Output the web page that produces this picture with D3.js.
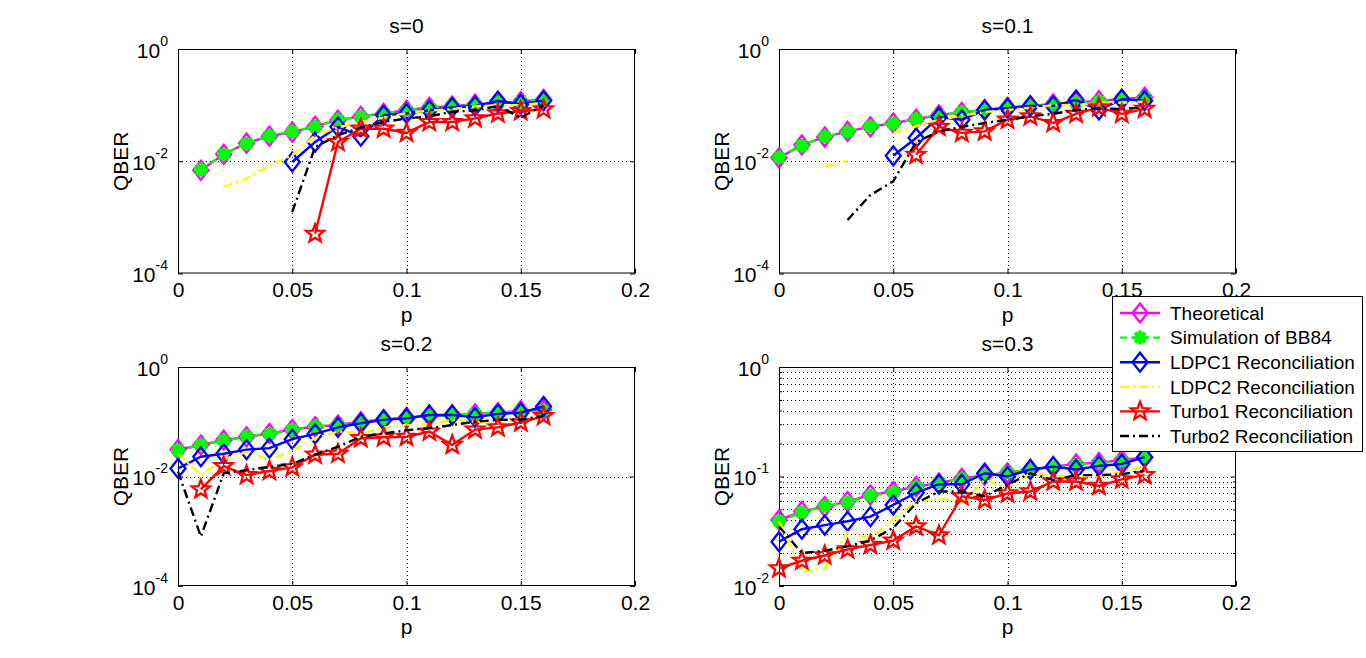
<!DOCTYPE html>
<html lang="en">
<head>
<meta charset="UTF-8">
<title>QBER</title>
<style>
    body { margin: 0; background: #fff; }
    svg text { font-family: "Liberation Sans", Arial, sans-serif; }
</style>
</head>
<body>
<div id="chart"></div>
<script src="https://cdn.jsdelivr.net/npm/d3@7"></script>
<script>
    // ---- data ----
    const pValues = [0, 0.01, 0.02, 0.03, 0.04, 0.05, 0.06, 0.07, 0.08, 0.09, 0.1, 0.11, 0.12, 0.13, 0.14, 0.15, 0.16];
    const xTicks = [0, 0.05, 0.1, 0.15, 0.2];
    const xTickLabels = ["0", "0.05", "0.1", "0.15", "0.2"];
    const titles = ["s=0", "s=0.1", "s=0.2", "s=0.3"];
    const seriesNames = ["Theoretical", "Simulation of BB84", "LDPC1 Reconciliation",
        "LDPC2 Reconciliation", "Turbo1 Reconciliation", "Turbo2 Reconciliation"];

    // s=0
    const theo0 = [null, 0.0069, 0.0133, 0.021, 0.028, 0.033, 0.042, 0.054, 0.063, 0.071, 0.081, 0.091, 0.096, 0.104, 0.108, 0.115, 0.126];
    const sim0 = [null, 0.0071, 0.0135, 0.0205, 0.0285, 0.034, 0.041, 0.055, 0.062, 0.072, 0.080, 0.090, 0.097, 0.103, 0.110, 0.114, 0.124];
    const ldpc1_0 = [null, null, null, null, null, 0.0097, 0.022, 0.041, 0.028, 0.066, 0.071, 0.081, 0.091, 0.096, 0.118, 0.104, 0.12];
    const ldpc2_0 = [null, null, 0.0035, 0.0049, 0.0083, 0.0128, 0.029, 0.040, 0.050, 0.060, 0.072, 0.080, 0.085, 0.095, 0.10, 0.10, 0.11];
    const turbo1_0 = [null, null, null, null, null, null, 0.00051, 0.022, 0.038, 0.038, 0.032, 0.050, 0.050, 0.058, 0.071, 0.078, 0.084];
    const turbo2_0 = [null, null, null, null, null, 0.00125, 0.018, 0.029, 0.040, 0.050, 0.058, 0.063, 0.076, 0.081, 0.096, 0.060, 0.10];

    // s=0.1
    const theo1 = [0.0115, 0.0195, 0.027, 0.034, 0.041, 0.048, 0.056, 0.067, 0.074, 0.082, 0.091, 0.097, 0.105, 0.111, 0.12, 0.127, 0.138];
    const sim1 = [0.0118, 0.019, 0.0275, 0.0335, 0.042, 0.047, 0.057, 0.066, 0.075, 0.081, 0.092, 0.096, 0.104, 0.112, 0.118, 0.128, 0.135];
    const ldpc1_1 = [null, null, null, null, null, 0.0125, 0.026, 0.061, 0.055, 0.082, 0.088, 0.097, 0.097, 0.123, 0.082, 0.127, 0.12];
    const ldpc2_1 = [null, null, 0.0081, 0.010, null, 0.032, 0.042, 0.055, 0.065, 0.075, 0.082, 0.090, 0.10, 0.10, 0.11, 0.11, 0.115];
    const turbo1_1 = [null, null, null, null, null, null, 0.013, 0.041, 0.032, 0.034, 0.055, 0.063, 0.048, 0.070, 0.091, 0.070, 0.086];
    const turbo2_1 = [null, null, null, 0.0009, 0.0025, 0.0044, 0.022, 0.034, 0.041, 0.048, 0.055, 0.063, 0.070, 0.082, 0.088, 0.085, 0.091];

    // s=0.2
    const theo2 = [0.031, 0.0376, 0.046, 0.053, 0.061, 0.072, 0.081, 0.087, 0.10, 0.11, 0.12, 0.127, 0.133, 0.139, 0.146, 0.159, 0.164];
    const sim2 = [0.030, 0.038, 0.045, 0.054, 0.060, 0.071, 0.082, 0.088, 0.098, 0.11, 0.118, 0.128, 0.131, 0.14, 0.145, 0.156, 0.16];
    const ldpc1_2 = [0.014, 0.023, 0.026, 0.031, 0.033, 0.048, 0.060, 0.079, 0.094, 0.108, 0.115, 0.133, 0.133, 0.12, 0.139, 0.146, 0.19];
    const ldpc2_2 = [0.026, 0.0106, 0.0205, 0.028, 0.020, 0.030, 0.050, 0.066, 0.061, 0.079, 0.087, 0.090, 0.108, 0.10, 0.097, 0.115, 0.123];
    const turbo1_2 = [null, 0.0058, 0.0155, 0.0106, 0.0126, 0.0147, 0.025, 0.026, 0.050, 0.052, 0.053, 0.066, 0.0376, 0.072, 0.079, 0.097, 0.127];
    const turbo2_2 = [0.0123, 0.0008, 0.0114, 0.013, 0.015, 0.017, 0.025, 0.035, 0.053, 0.061, 0.070, 0.076, 0.087, 0.10, 0.108, 0.11, 0.127];

    // s=0.3
    const theo3 = [0.040, 0.048, 0.053, 0.059, 0.068, 0.073, 0.081, 0.087, 0.096, 0.103, 0.108, 0.116, 0.123, 0.13, 0.134, 0.141, 0.15];
    const sim3 = [0.039, 0.047, 0.054, 0.058, 0.067, 0.072, 0.080, 0.088, 0.095, 0.102, 0.109, 0.115, 0.121, 0.128, 0.133, 0.139, 0.148];
    const ldpc1_3 = [0.0254, 0.033, 0.036, 0.039, 0.043, 0.055, 0.071, 0.085, 0.085, 0.107, 0.10, 0.116, 0.123, 0.116, 0.125, 0.13, 0.15];
    const ldpc2_3 = [0.039, 0.0135, 0.0145, 0.031, 0.027, 0.041, 0.059, 0.063, 0.058, 0.093, 0.078, 0.107, 0.10, 0.10, 0.10, 0.111, 0.123];
    const turbo1_3 = [0.0145, 0.017, 0.019, 0.0216, 0.0237, 0.026, 0.035, 0.029, 0.066, 0.061, 0.070, 0.073, 0.090, 0.090, 0.082, 0.094, 0.103];
    const turbo2_3 = [0.035, 0.020, 0.021, 0.023, 0.026, 0.034, 0.057, 0.073, 0.073, 0.066, 0.084, 0.107, 0.093, 0.103, 0.103, 0.105, 0.113];

    const yDomains = [[1e-4, 1], [1e-4, 1], [1e-4, 1], [1e-2, 1]];
    const yTickExps = [[-4, -2, 0], [-4, -2, 0], [-4, -2, 0], [-2, -1, 0]];

    // ---- styles ----
    const styles = [
        {color: "#ff00ff", dash: null, marker: "diamond"},
        {color: "#00ff00", dash: "7,4", marker: "asterisk"},
        {color: "#0000ff", dash: null, marker: "diamond"},
        {color: "#ffff00", dash: "9,4,2,4", marker: null},
        {color: "#ff0000", dash: null, marker: "star"},
        {color: "#000000", dash: "9,4,2,4", marker: null}
    ];

    const panels = [
        {box: {x: 178, y: 49, w: 457, h: 224.5}, series: [theo0, sim0, ldpc1_0, ldpc2_0, turbo1_0, turbo2_0]},
        {box: {x: 779, y: 49, w: 457, h: 224.5}, series: [theo1, sim1, ldpc1_1, ldpc2_1, turbo1_1, turbo2_1]},
        {box: {x: 178, y: 367, w: 457, h: 219}, series: [theo2, sim2, ldpc1_2, ldpc2_2, turbo1_2, turbo2_2]},
        {box: {x: 779, y: 367, w: 457, h: 219}, series: [theo3, sim3, ldpc1_3, ldpc2_3, turbo1_3, turbo2_3]}
    ];

    const width = 1366, height = 658;
    const fontSize = 21;

    let svg = d3.select("#chart")
        .append("svg")
        .attr("width", width)
        .attr("height", height)
        .style("display", "block")
        .style("background-color", "#fff");

    // marker shapes
    function diamondPath(hw, hh) {
        return `M0,${-hh}L${hw},0L0,${hh}L${-hw},0Z`;
    }
    function starPath(ro, ri) {
        let pts = [];
        for (let i = 0; i < 10; i++) {
            const r = i % 2 === 0 ? ro : ri;
            const a = -Math.PI / 2 + i * Math.PI / 5;
            pts.push([r * Math.cos(a), r * Math.sin(a)]);
        }
        return "M" + pts.map(p => p.join(",")).join("L") + "Z";
    }
    function asteriskPath(r) {
        const d = r * Math.SQRT1_2;
        return `M${-r},0L${r},0M0,${-r}L0,${r}M${-d},${-d}L${d},${d}M${-d},${d}L${d},${-d}`;
    }

    function drawMarker(sel, type, color) {
        if (type === "diamond") {
            sel.append("path").attr("d", diamondPath(7.5, 9.5))
                .attr("fill", "none").attr("stroke", color).attr("stroke-width", 2.3);
        } else if (type === "star") {
            sel.append("path").attr("d", starPath(9.5, 4))
                .attr("fill", "none").attr("stroke", color).attr("stroke-width", 2.3)
                .attr("stroke-linejoin", "miter");
        } else if (type === "asterisk") {
            sel.append("path").attr("d", asteriskPath(7))
                .attr("fill", "none").attr("stroke", color).attr("stroke-width", 3.8);
        }
    }

    panels.forEach((panel, i) => {
        const b = panel.box;
        let g = svg.append("g").classed("panel", true);

        let x = d3.scaleLinear().domain([0, 0.2]).range([b.x, b.x + b.w]);
        let y = d3.scaleLog().domain(yDomains[i]).range([b.y + b.h, b.y]);
        const yMajor = yTickExps[i].map(e => Math.pow(10, e));

        // axes background
        g.append("rect").attr("x", b.x).attr("y", b.y).attr("width", b.w).attr("height", b.h)
            .attr("fill", "#fff");

        // grid lines
        let grid = g.append("g").attr("stroke", "#000").attr("stroke-width", 1)
            .attr("stroke-dasharray", "1,3");
        grid.selectAll("line.gx")
            .data(xTicks.slice(1, -1))
            .join("line")
            .attr("x1", d => Math.round(x(d)) + 0.5).attr("x2", d => Math.round(x(d)) + 0.5)
            .attr("y1", b.y).attr("y2", b.y + b.h);
        // minor log grid only where the range is two decades
        const yGridVals = i === 3 ? y.ticks().filter(v => v > yDomains[i][0] && v < yDomains[i][1])
            : yMajor.slice(1, -1);
        grid.selectAll("line.gy")
            .data(yGridVals)
            .join("line")
            .attr("x1", b.x).attr("x2", b.x + b.w)
            .attr("y1", d => Math.round(y(d)) + 0.5).attr("y2", d => Math.round(y(d)) + 0.5);

        // axes
        let xAxis = d3.axisBottom(x).tickValues(xTicks).tickSize(-5).tickSizeOuter(0)
            .tickPadding(9).tickFormat((d, k) => xTickLabels[k]);
        let gx = g.append("g").attr("transform", `translate(0,${b.y + b.h})`).call(xAxis);
        g.append("g").attr("transform", `translate(0,${b.y})`)
            .call(d3.axisTop(x).tickValues(xTicks).tickSize(-5).tickSizeOuter(0).tickFormat(""));

        let yAxis = d3.axisLeft(y).tickValues(yMajor).tickSize(-5).tickSizeOuter(0).tickPadding(10)
            .tickFormat("");
        let gy = g.append("g").attr("transform", `translate(${b.x},0)`).call(yAxis);
        g.append("g").attr("transform", `translate(${b.x + b.w},0)`)
            .call(d3.axisRight(y).tickValues(yMajor).tickSize(-5).tickSizeOuter(0).tickFormat(""));

        if (i === 3) {
            const minor = y.ticks().filter(v => !yMajor.some(m => Math.abs(m - v) < 1e-9));
            g.append("g").attr("transform", `translate(${b.x},0)`)
                .call(d3.axisLeft(y).tickValues(minor).tickSize(-3).tickSizeOuter(0).tickFormat(""));
            g.append("g").attr("transform", `translate(${b.x + b.w},0)`)
                .call(d3.axisRight(y).tickValues(minor).tickSize(-3).tickSizeOuter(0).tickFormat(""));
        }

        g.selectAll(".domain").remove();
        g.selectAll(".tick line").attr("stroke", "#000");

        gx.selectAll(".tick text")
            .attr("font-size", fontSize)
            .attr("font-family", "Liberation Sans, Arial, sans-serif")
            .attr("fill", "#000");

        // y labels as 10 with superscript
        gy.selectAll(".tick").each(function (d, k) {
            let t = d3.select(this).select("text")
                .attr("font-family", "Liberation Sans, Arial, sans-serif")
                .attr("fill", "#000")
                .attr("dy", null)
                .attr("y", 8);
            t.text(null);
            t.append("tspan").attr("font-size", fontSize).text("10");
            t.append("tspan").attr("font-size", 14).attr("dy", -12).text(yTickExps[i][k]);
        });

        // frame
        g.append("rect").attr("x", b.x + 0.5).attr("y", b.y + 0.5).attr("width", b.w - 1).attr("height", b.h - 1)
            .attr("fill", "none").attr("stroke", "#000").attr("stroke-width", 1);

        // series
        panel.series.forEach((vals, si) => {
            const st = styles[si];
            const pts = pValues.map((p, k) => ({p: p, v: vals[k]}));
            let line = d3.line()
                .defined(d => d.v != null && d.v > 0)
                .x(d => x(d.p))
                .y(d => y(d.v));
            g.append("path")
                .datum(pts)
                .attr("d", line)
                .attr("fill", "none")
                .attr("stroke", st.color)
                .attr("stroke-width", 2.4)
                .attr("stroke-dasharray", st.dash);
            if (st.marker) {
                g.append("g")
                    .selectAll("g")
                    .data(pts.filter(d => d.v != null && d.v > 0))
                    .join("g")
                    .attr("transform", d => `translate(${x(d.p)},${y(d.v)})`)
                    .each(function () { drawMarker(d3.select(this), st.marker, st.color); });
            }
        });

        // labels
        g.append("text")
            .attr("x", b.x + b.w / 2).attr("y", b.y - 16)
            .attr("text-anchor", "middle").attr("font-size", fontSize)
            .text(titles[i]);
        g.append("text")
            .attr("x", b.x + b.w / 2).attr("y", b.y + b.h + 48)
            .attr("text-anchor", "middle").attr("font-size", fontSize)
            .text("p");
        g.append("text")
            .attr("transform", `translate(${b.x - 50},${b.y + b.h / 2}) rotate(-90)`)
            .attr("text-anchor", "middle").attr("font-size", fontSize)
            .text("QBER");
    });

    // legend
    let legend = svg.append("g").classed("legend", true);
    legend.append("rect")
        .attr("x", 1112.5).attr("y", 296.5).attr("width", 250).attr("height", 155)
        .attr("fill", "#fff").attr("stroke", "#000").attr("stroke-width", 1);
    let rows = legend.selectAll("g.row")
        .data(seriesNames)
        .join("g")
        .classed("row", true)
        .attr("transform", (d, k) => `translate(1120,${313 + k * 24.6})`);
    rows.append("line")
        .attr("x1", 0).attr("x2", 40).attr("y1", 0).attr("y2", 0)
        .attr("stroke", (d, k) => styles[k].color)
        .attr("stroke-width", 2.4)
        .attr("stroke-dasharray", (d, k) => styles[k].dash);
    rows.each(function (d, k) {
        if (styles[k].marker) {
            let m = d3.select(this).append("g").attr("transform", "translate(20,0)");
            drawMarker(m, styles[k].marker, styles[k].color);
        }
    });
    rows.append("text")
        .attr("x", 50).attr("y", 0).attr("dy", "0.36em")
        .attr("font-size", 19)
        .text(d => d);
</script>
</body>
</html>
